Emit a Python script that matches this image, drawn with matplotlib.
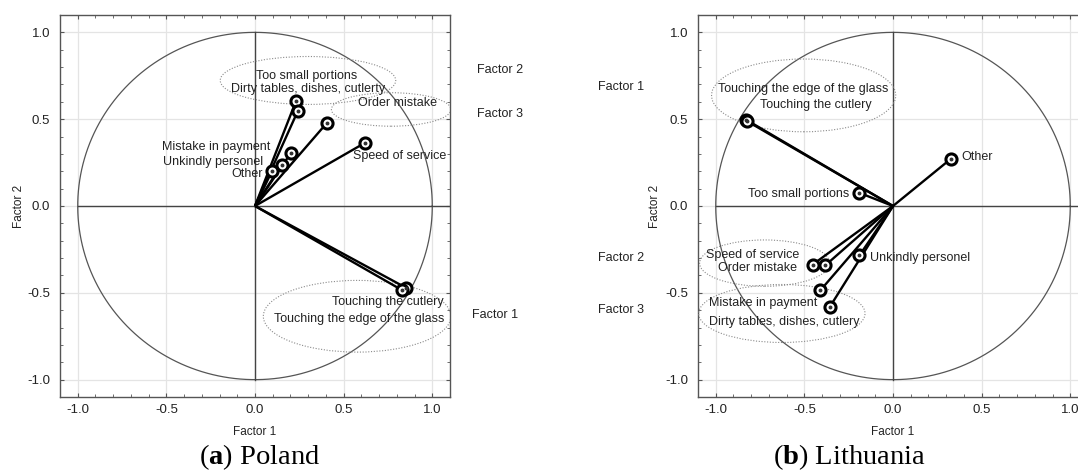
"""Factor loading plots (Factor 1 vs Factor 2) for Poland and Lithuania."""

import matplotlib
matplotlib.use("Agg")
import matplotlib.pyplot as plt
from matplotlib.patches import Ellipse
from matplotlib.ticker import MultipleLocator
import numpy as np

plt.rcParams["font.family"] = ["Liberation Sans", "DejaVu Sans"]
plt.rcParams["axes.unicode_minus"] = False
plt.rcParams["mathtext.fontset"] = "custom"
plt.rcParams["mathtext.bf"] = "Liberation Serif:bold"
plt.rcParams["mathtext.rm"] = "Liberation Serif"

# ---- loadings: Poland ----
pl_items = ["Too small portions", "Dirty tables, dishes, cutlerty", "Order mistake",
            "Speed of service", "Mistake in payment", "Unkindly personel", "Other",
            "Touching the cutlery", "Touching the edge of the glass"]
pl_f1 = [0.231, 0.241, 0.406, 0.619, 0.202, 0.150, 0.095, 0.850, 0.830]
pl_f2 = [0.604, 0.546, 0.479, 0.363, 0.305, 0.237, 0.199, -0.470, -0.485]

# ---- loadings: Lithuania ----
lt_items = ["Touching the edge of the glass", "Touching the cutlery", "Too small portions",
            "Other", "Speed of service", "Order mistake", "Unkindly personel",
            "Mistake in payment", "Dirty tables, dishes, cutlery"]
lt_f1 = [-0.830, -0.822, -0.193, 0.328, -0.454, -0.382, -0.189, -0.409, -0.357]
lt_f2 = [0.498, 0.488, 0.077, 0.273, -0.338, -0.342, -0.284, -0.485, -0.582]

# label placement (x, y, ha) in data units, same order as the items
pl_label_pos = [(0.289, 0.749, "center"), (0.297, 0.676, "center"), (0.806, 0.591, "center"),
                (0.817, 0.286, "center"), (0.085, 0.338, "right"), (0.047, 0.253, "right"),
                (0.047, 0.185, "right"), (1.066, -0.552, "right"), (1.066, -0.648, "right")]
lt_label_pos = [(-0.504, 0.673, "center"), (-0.438, 0.581, "center"), (-0.247, 0.067, "right"),
                (0.386, 0.283, "left"), (-0.793, -0.284, "center"), (-0.766, -0.357, "center"),
                (-0.127, -0.300, "left"), (-1.039, -0.557, "left"), (-1.039, -0.668, "left")]

# dotted group outlines: (cx, cy, width, height)
pl_groups = [(0.299, 0.723, 0.99, 0.276), (0.768, 0.556, 0.674, 0.193),
             (0.576, -0.635, 1.058, 0.413)]
lt_groups = [(-0.504, 0.637, 1.039, 0.419), (-0.724, -0.329, 0.734, 0.267),
             (-0.627, -0.619, 0.938, 0.334)]

# factor names written beside each panel: (text, x_px, y_px)
pl_side = [("Factor 2", 477, 70), ("Factor 3", 477, 114), ("Factor 1", 472, 315)]
lt_side = [("Factor 1", 598, 87), ("Factor 2", 598, 258), ("Factor 3", 598, 310)]

W, H = 1078, 473
TXT = "#222222"


def draw_panel(ax, f1, f2, items, label_pos, groups):
    ax.set_xlim(-1.1, 1.1)
    ax.set_ylim(-1.1, 1.1)
    ax.xaxis.set_major_locator(MultipleLocator(0.5))
    ax.yaxis.set_major_locator(MultipleLocator(0.5))
    ax.xaxis.set_minor_locator(MultipleLocator(0.1))
    ax.yaxis.set_minor_locator(MultipleLocator(0.1))
    ax.xaxis.set_major_formatter(matplotlib.ticker.FormatStrFormatter("%.1f"))
    ax.yaxis.set_major_formatter(matplotlib.ticker.FormatStrFormatter("%.1f"))
    ax.tick_params(which="both", direction="in", top=True, right=True,
                   colors="#555555", labelcolor=TXT, labelsize=9.5)
    ax.tick_params(which="major", length=3, width=0.8)
    ax.tick_params(which="minor", length=2, width=0.6)
    ax.tick_params(axis="x", pad=5)
    ax.tick_params(axis="y", pad=7)
    for sp in ax.spines.values():
        sp.set_color("#555555")
        sp.set_linewidth(1.0)
    ax.grid(True, which="major", color="#e4e4e4", linewidth=0.9)
    ax.set_axisbelow(True)

    # unit circle and cross
    t = np.linspace(0, 2 * np.pi, 400)
    ax.plot(np.cos(t), np.sin(t), color="#555555", lw=0.9, zorder=2)
    ax.plot([-1.0, 1.1], [0, 0], color="#444444", lw=1.0, zorder=2)
    ax.plot([0, 0], [-1.0, 1.0], color="#444444", lw=1.0, zorder=2)

    for cx, cy, w, h in groups:
        ax.add_patch(Ellipse((cx, cy), w, h, fill=False, edgecolor="#8a8a8a",
                             lw=0.8, linestyle=(0, (1, 1.5)), zorder=3))

    for x, y in zip(f1, f2):
        ax.plot([0, x], [0, y], color="black", lw=1.7, zorder=4, solid_capstyle="butt")
    ax.plot(f1, f2, "o", ms=8, mfc="white", mec="black", mew=2.2, ls="none", zorder=5)
    ax.plot(f1, f2, "o", ms=1.8, color="#333333", ls="none", zorder=6)

    for name, (tx, ty, ha) in zip(items, label_pos):
        ax.text(tx, ty, name, ha=ha, va="center", fontsize=9, color=TXT, zorder=7)


def main() -> None:
    fig = plt.figure(figsize=(W / 100, H / 100), dpi=100, facecolor="white")

    ax1 = fig.add_axes([60 / W, 1 - 397 / H, 390 / W, 382 / H])
    ax2 = fig.add_axes([698 / W, 1 - 397 / H, 390 / W, 382 / H])

    draw_panel(ax1, pl_f1, pl_f2, pl_items, pl_label_pos, pl_groups)
    draw_panel(ax2, lt_f1, lt_f2, lt_items, lt_label_pos, lt_groups)

    # axis titles
    for cx_px, ylab_px in [(255, 19), (893, 655)]:
        fig.text(cx_px / W, 1 - 432 / H, "Factor 1", ha="center", va="center",
                 fontsize=8.5, color=TXT)
        fig.text(ylab_px / W, 1 - 206 / H, "Factor 2", ha="center", va="center",
                 rotation=90, fontsize=8.5, color=TXT)

    for name, x_px, y_px in pl_side + lt_side:
        fig.text(x_px / W, 1 - y_px / H, name, ha="left", va="center",
                 fontsize=9, color=TXT)

    # panel captions
    fig.text(260 / W, 1 - 457 / H, "(" + r"$\mathbf{a}$" + ") Poland", ha="center",
             va="center", fontsize=20.5, family="Liberation Serif", color="black")
    fig.text(849 / W, 1 - 457 / H, "(" + r"$\mathbf{b}$" + ") Lithuania", ha="center",
             va="center", fontsize=20.5, family="Liberation Serif", color="black")

    fig.savefig("out.png", dpi=100, facecolor="white")
    plt.close(fig)


if __name__ == "__main__":
    main()
